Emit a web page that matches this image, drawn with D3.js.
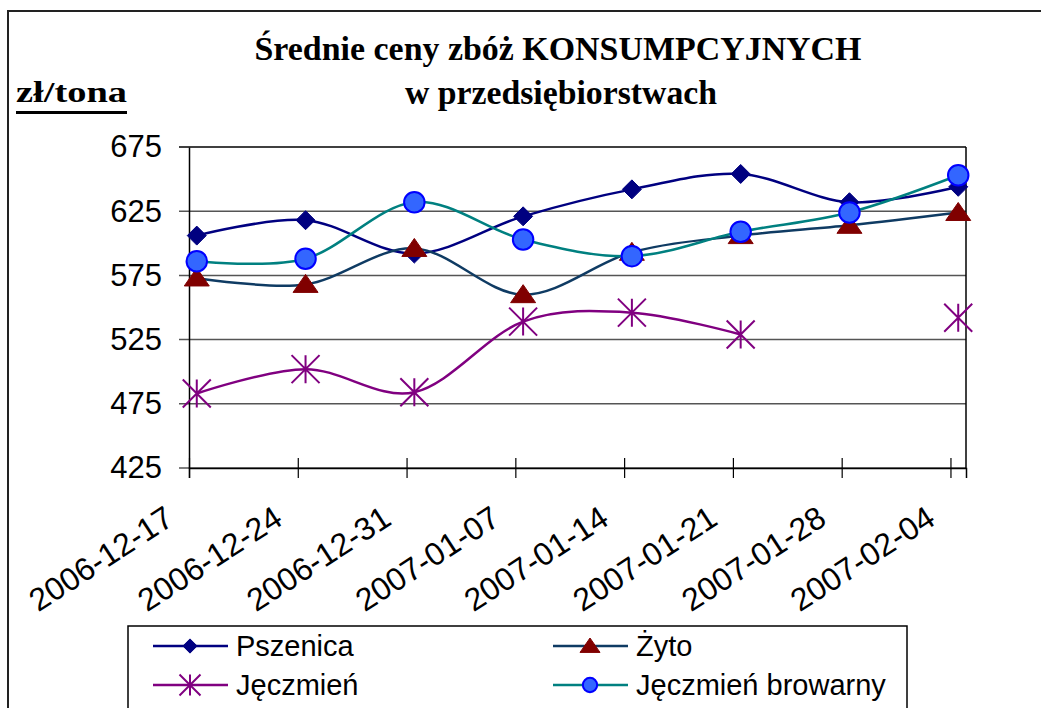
<!DOCTYPE html>
<html>
<head>
<meta charset="utf-8">
<script src="https://cdn.jsdelivr.net/npm/d3@7"></script>
<style>
body { margin: 0; background: #fff; }
</style>
</head>
<body>
<script>
// chart data
const dates = ["2006-12-17", "2006-12-24", "2006-12-31", "2007-01-07",
               "2007-01-14", "2007-01-21", "2007-01-28", "2007-02-04"];
const pszenica = [606, 618, 592, 621, 642, 654, 632, 644];
const zyto = [573, 568, 596, 560, 593, 606, 614, 624];
const jeczmien = [483, 502, 484, 539, 546, 529, null, 542];
const browarny = [586, 588, 632, 603, 590, 609, 624, 653];
const seriesNames = ["Pszenica", "Żyto", "Jęczmień", "Jęczmień browarny"];
const yTicks = [425, 475, 525, 575, 625, 675];

const width = 1041;
const height = 708;

const parse = d3.utcParse("%Y-%m-%d");
const dayDates = dates.map(parse);
const lastDay = d3.utcDay.offset(dayDates[dayDates.length - 1], 1);

// date axis, points sit in the middle of their day
const x = d3.scaleUtc()
    .domain([dayDates[0], lastDay])
    .range([189, 966]);
const y = d3.scaleLinear()
    .domain([425, 675])
    .range([468, 147]);

// marker shapes
const diamond = {
    draw(ctx, size) {
        const r = Math.sqrt(size) / 2;
        ctx.moveTo(0, -r); ctx.lineTo(r, 0); ctx.lineTo(0, r); ctx.lineTo(-r, 0); ctx.closePath();
    }
};
const triangle = {
    draw(ctx, size) {
        const r = Math.sqrt(size) / 2;
        ctx.moveTo(0, -r); ctx.lineTo(r * 1.25, r * 0.8); ctx.lineTo(-r * 1.25, r * 0.8); ctx.closePath();
    }
};
const star = {
    draw(ctx, size) {
        const r = Math.sqrt(size) / 2;
        ctx.moveTo(0, -r); ctx.lineTo(0, r);
        ctx.moveTo(-r, -r); ctx.lineTo(r, r);
        ctx.moveTo(-r, r); ctx.lineTo(r, -r);
    }
};

const series = [
    {name: seriesNames[0], values: pszenica, line: "#000080", shape: diamond, size: 19 * 19, fill: "#000080", stroke: "#000080", sw: 1},
    {name: seriesNames[1], values: zyto, line: "#0f3b63", shape: triangle, size: 20 * 20, fill: "#800000", stroke: "#800000", sw: 1},
    {name: seriesNames[2], values: jeczmien, line: "#800080", shape: star, size: 28 * 28, fill: "none", stroke: "#800080", sw: 2},
    {name: seriesNames[3], values: browarny, line: "#008080", shape: d3.symbolCircle, size: 330, fill: "#3366ff", stroke: "#0000ff", sw: 2}
];

let svg = d3.select("body")
    .append("svg")
    .attr("width", width)
    .attr("height", height);

// outer frame
svg.append("rect")
    .attr("x", 8).attr("y", 11)
    .attr("width", 1100).attr("height", 800)
    .attr("fill", "none")
    .attr("stroke", "#222")
    .attr("stroke-width", 2);

// title
svg.append("text")
    .attr("x", 558).attr("y", 60)
    .attr("text-anchor", "middle")
    .attr("textLength", 607)
    .attr("lengthAdjust", "spacingAndGlyphs")
    .style("font-family", "'Liberation Serif', 'Times New Roman', serif")
    .style("font-weight", "bold")
    .style("font-size", "33px")
    .text("Średnie ceny zbóż KONSUMPCYJNYCH");
svg.append("text")
    .attr("x", 561).attr("y", 104)
    .attr("text-anchor", "middle")
    .attr("textLength", 312)
    .attr("lengthAdjust", "spacingAndGlyphs")
    .style("font-family", "'Liberation Serif', 'Times New Roman', serif")
    .style("font-weight", "bold")
    .style("font-size", "33px")
    .text("w przedsiębiorstwach");

// unit label
svg.append("text")
    .attr("x", 16).attr("y", 102)
    .attr("textLength", 111)
    .attr("lengthAdjust", "spacingAndGlyphs")
    .style("font-family", "'Liberation Serif', 'Times New Roman', serif")
    .style("font-weight", "bold")
    .style("font-size", "30px")
    .text("zł/tona");
svg.append("rect")
    .attr("x", 16).attr("y", 111)
    .attr("width", 111).attr("height", 3)
    .attr("fill", "#000");

// gridlines
svg.append("g")
    .selectAll("line")
    .data(yTicks)
    .enter()
    .append("line")
    .attr("x1", 179).attr("x2", 966)
    .attr("y1", d => y(d)).attr("y2", d => y(d))
    .attr("stroke", d => d === 675 ? "#000" : "#555")
    .attr("stroke-width", 1.5);

// right border of plot area
svg.append("line")
    .attr("x1", 966).attr("x2", 966)
    .attr("y1", y(675)).attr("y2", y(425))
    .attr("stroke", "#000").attr("stroke-width", 1.5);

// y axis
const yAxis = svg.append("g")
    .attr("transform", "translate(189,0)")
    .call(d3.axisLeft(y).tickValues(yTicks).tickSize(0).tickPadding(27));
yAxis.select(".domain").attr("stroke", "#000").attr("stroke-width", 1.5);
yAxis.selectAll("text")
    .style("font-family", "'Liberation Sans', Arial, sans-serif")
    .style("font-size", "31px")
    .attr("fill", "#000");

// x axis
const xAxis = svg.append("g")
    .attr("transform", "translate(0," + y(425) + ")")
    .call(d3.axisBottom(x).tickValues(dayDates).tickSize(10).tickFormat(d3.utcFormat("%Y-%m-%d")));
xAxis.select(".domain").attr("stroke", "#000").attr("stroke-width", 1.5);
xAxis.selectAll(".tick line").attr("y1", -10).attr("stroke", "#000").attr("stroke-width", 1.2);
xAxis.selectAll("text")
    .attr("text-anchor", "end")
    .attr("x", 0).attr("y", 0).attr("dy", "0.35em")
    .attr("transform", "translate(-20,46) rotate(-33)")
    .style("font-family", "'Liberation Sans', Arial, sans-serif")
    .style("font-size", "32px")
    .attr("fill", "#000");

const midX = d => x(d3.utcHour.offset(d, 12));

const line = d3.line()
    .defined(d => d.v != null)
    .x(d => midX(d.date))
    .y(d => y(d.v))
    .curve(d3.curveCatmullRom.alpha(0));

series.forEach(s => {
    const pts = s.values.map((v, i) => ({date: dayDates[i], v: v}));
    svg.append("path")
        .datum(pts)
        .attr("d", line)
        .attr("fill", "none")
        .attr("stroke", s.line)
        .attr("stroke-width", 2.5);
    svg.append("g")
        .selectAll("path")
        .data(pts.filter(d => d.v != null))
        .enter()
        .append("path")
        .attr("transform", d => "translate(" + midX(d.date) + "," + y(d.v) + ")")
        .attr("d", d3.symbol().type(s.shape).size(s.size))
        .attr("fill", s.fill)
        .attr("stroke", s.stroke)
        .attr("stroke-width", s.sw);
});

// legend
svg.append("rect")
    .attr("x", 128).attr("y", 626)
    .attr("width", 779).attr("height", 120)
    .attr("fill", "#fff")
    .attr("stroke", "#000")
    .attr("stroke-width", 1.5);

const legendPos = [[153, 646], [553, 646], [153, 685], [553, 685]];
const legendScale = [0.75, 0.8, 0.75, 0.7];
series.forEach((s, i) => {
    const [lx, ly] = legendPos[i];
    const g = svg.append("g").attr("transform", "translate(" + lx + "," + ly + ")");
    g.append("line")
        .attr("x1", 0).attr("x2", 75)
        .attr("stroke", s.line).attr("stroke-width", 2.5);
    g.append("path")
        .attr("transform", "translate(37,0)")
        .attr("d", d3.symbol().type(s.shape).size(s.size * legendScale[i] * legendScale[i]))
        .attr("fill", s.fill)
        .attr("stroke", s.stroke)
        .attr("stroke-width", s.sw);
    g.append("text")
        .attr("x", 83).attr("y", 10)
        .style("font-family", "'Liberation Sans', Arial, sans-serif")
        .style("font-size", "29px")
        .text(s.name);
});
</script>
</body>
</html>
